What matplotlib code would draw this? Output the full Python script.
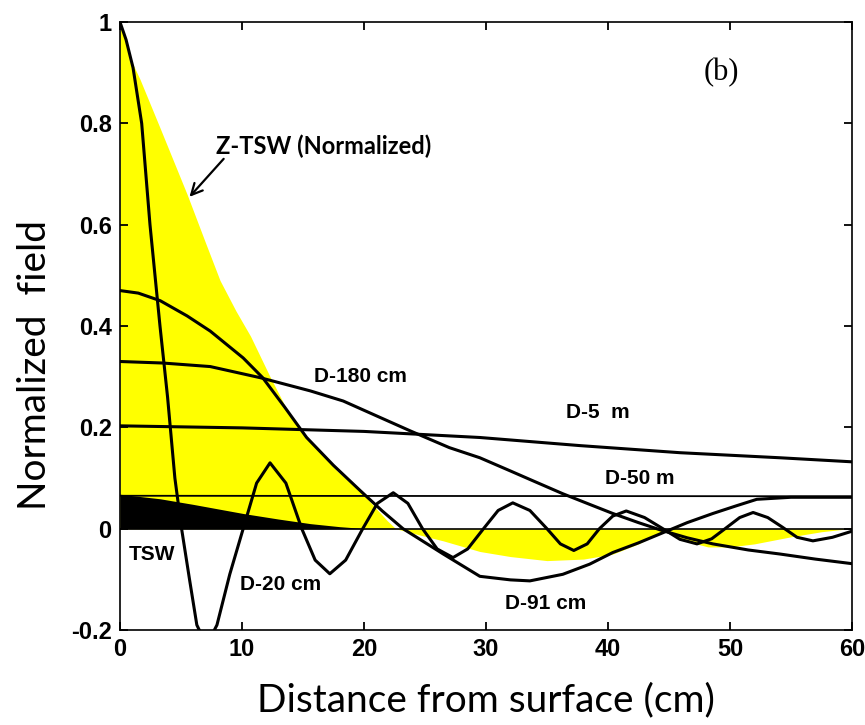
import matplotlib
matplotlib.use("Agg")
import matplotlib.pyplot as plt

# traced curves, x = distance from surface (cm), y = normalized field
ztsw_x = [0, 0.8, 1.64, 3.3, 5.5, 7.0, 8.2, 9.5, 10.7, 12.3, 13.9, 15.6, 17.8, 19.9, 21.9, 22.6,
          24.5, 26.5, 29.5, 32, 35, 38, 40.4, 42.5, 44.6, 46.5, 48.2, 50, 52, 55, 57.5, 59, 60]
ztsw_y = [1.0, 0.93, 0.887, 0.79, 0.66, 0.565, 0.49, 0.43, 0.38, 0.30, 0.225, 0.174, 0.114,
          0.069, 0.016, 0.0, -0.012, -0.024, -0.045, -0.055, -0.063, -0.06, -0.05, -0.03,
          -0.004, -0.025, -0.036, -0.036, -0.03, -0.016, -0.006, -0.002, 0.0]

tsw_x = [0, 3.3, 6, 10.1, 13, 15.6, 18, 20.2]
tsw_y = [0.068, 0.059, 0.048, 0.030, 0.019, 0.010, 0.004, 0.0]

d20_x = [0, 0.5, 1.07, 1.78, 2.46, 3.28, 3.9, 4.5, 5.05, 5.7, 6.3, 7.1, 7.95, 9.0, 10.1,
         11.2, 12.3, 13.6, 14.9, 16.0, 17.2, 18.5, 19.9, 21.1, 22.4, 23.6, 24.8, 26.0, 27.3,
         28.5, 29.8, 31.0, 32.2, 33.6, 35.0, 36.1, 37.2, 38.3, 39.3, 40.4, 41.5, 43.0, 44.5,
         45.9, 47.3, 48.5, 49.6, 50.8, 51.9, 53.1, 54.3, 55.5, 56.8, 58.4, 60]
d20_y = [1.0, 0.965, 0.91, 0.80, 0.60, 0.40, 0.26, 0.10, 0.0, -0.10, -0.19, -0.23, -0.19,
         -0.09, 0.0, 0.09, 0.13, 0.09, 0.0, -0.062, -0.089, -0.062, 0.0, 0.05, 0.071, 0.05, 0.0,
         -0.04, -0.057, -0.04, 0.0, 0.036, 0.051, 0.036, 0.0, -0.03, -0.043, -0.03, 0.0, 0.025,
         0.035, 0.022, 0.0, -0.021, -0.03, -0.02, 0.0, 0.022, 0.032, 0.022, 0.003, -0.017,
         -0.024, -0.017, -0.005]

d91_x = [0, 1.5, 3.3, 5.5, 7.4, 10.1, 11.7, 13.5, 15.3, 17.5, 19.7, 21.5, 23.2, 26.5, 29.5,
         32, 33.6, 36.3, 38.5, 40.4, 42.5, 44.5, 46.5, 48.6, 50.5, 52.2, 55, 60]
d91_y = [0.47, 0.465, 0.45, 0.42, 0.39, 0.337, 0.298, 0.24, 0.18, 0.125, 0.075, 0.035, 0.0,
         -0.05, -0.094, -0.101, -0.103, -0.09, -0.07, -0.047, -0.028, -0.008, 0.012, 0.03,
         0.045, 0.058, 0.062, 0.062]

d180_x = [0, 3.5, 7.4, 11.5, 15.6, 18.3, 21, 23.8, 27, 29.5, 32, 34, 36.3, 38.5, 40.4, 42.5,
          44.5, 46.5, 48.6, 51.5, 54.1, 57, 60]
d180_y = [0.33, 0.327, 0.32, 0.298, 0.272, 0.252, 0.223, 0.193, 0.16, 0.14, 0.114, 0.093,
          0.069, 0.048, 0.03, 0.012, -0.004, -0.018, -0.03, -0.042, -0.05, -0.06, -0.069]

d5m_x = [0, 10, 20, 29.5, 37.7, 45.9, 54.1, 60]
d5m_y = [0.203, 0.199, 0.192, 0.18, 0.164, 0.15, 0.14, 0.132]

d50m_x = [0, 60]
d50m_y = [0.065, 0.064]

xticks = [0, 10, 20, 30, 40, 50, 60]
yticks = [-0.2, 0, 0.2, 0.4, 0.6, 0.8, 1]
ytick_labels = ['-0.2', '0', '0.2', '0.4', '0.6', '0.8', '1']

tick_font = ['Liberation Sans Narrow', 'Liberation Sans', 'DejaVu Sans']
label_font = ['Lato', 'DejaVu Sans']

fig = plt.figure(figsize=(8.65, 7.25), dpi=100)
ax = fig.add_axes([0.1387, 0.131, 0.8462, 0.8386])

ax.fill_between(ztsw_x, ztsw_y, 0, color='#ffff00', lw=0, zorder=1)
ax.fill_between(tsw_x, tsw_y, 0, color='black', lw=0, zorder=2)
ax.axhline(0, color='black', lw=1.2, zorder=3)
ax.plot(d50m_x, d50m_y, color='black', lw=1.3, zorder=3)
for xs, ys in [(d20_x, d20_y), (d91_x, d91_y), (d180_x, d180_y), (d5m_x, d5m_y)]:
    ax.plot(xs, ys, color='black', lw=2.2, zorder=4)

ax.set_xlim(0, 60)
ax.set_ylim(-0.2, 1)
ax.set_xticks(xticks)
ax.set_yticks(yticks)
ax.set_yticklabels(ytick_labels)
ax.tick_params(direction='in', length=6, width=1.3, top=True, right=True, pad=6)
for lab in ax.get_xticklabels() + ax.get_yticklabels():
    lab.set_family(tick_font)
    lab.set_fontweight('bold')
    lab.set_fontsize(17)
for sp in ax.spines.values():
    sp.set_linewidth(1.2)

# curve labels
lbl = dict(family=tick_font, fontweight='bold', fontsize=15, ha='center', va='center')
ax.text(19.75, 0.30, 'D-180 cm', **lbl)
ax.text(39.2, 0.229, 'D-5  m', **lbl)
ax.text(42.6, 0.10, 'D-50 m', **lbl)
ax.text(34.9, -0.148, 'D-91 cm', **lbl)
ax.text(13.2, -0.11, 'D-20 cm', **lbl)
ax.text(2.6, -0.051, 'TSW', **lbl)
ax.text(49.3, 0.90, '(b)', family=['Liberation Serif'], fontsize=22, ha='center', va='center')

ax.text(16.7, 0.755, 'Z-TSW (Normalized)', family=label_font, fontweight='bold',
        fontsize=17, ha='center', va='center')
ax.annotate('', xy=(5.7, 0.655), xytext=(8.5, 0.73),
            arrowprops=dict(arrowstyle='->', color='black', lw=1.6,
                            shrinkA=0, shrinkB=0, mutation_scale=20))

fig.text(35 / 865, 1 - 365 / 725, 'Normalized  field', rotation=90, family=label_font,
         fontsize=28, ha='center', va='center')
fig.text(486 / 865, 1 - 700 / 725, 'Distance from surface (cm)', family=label_font,
         fontsize=28, ha='center', va='center')

fig.savefig('out.png', dpi=100)
